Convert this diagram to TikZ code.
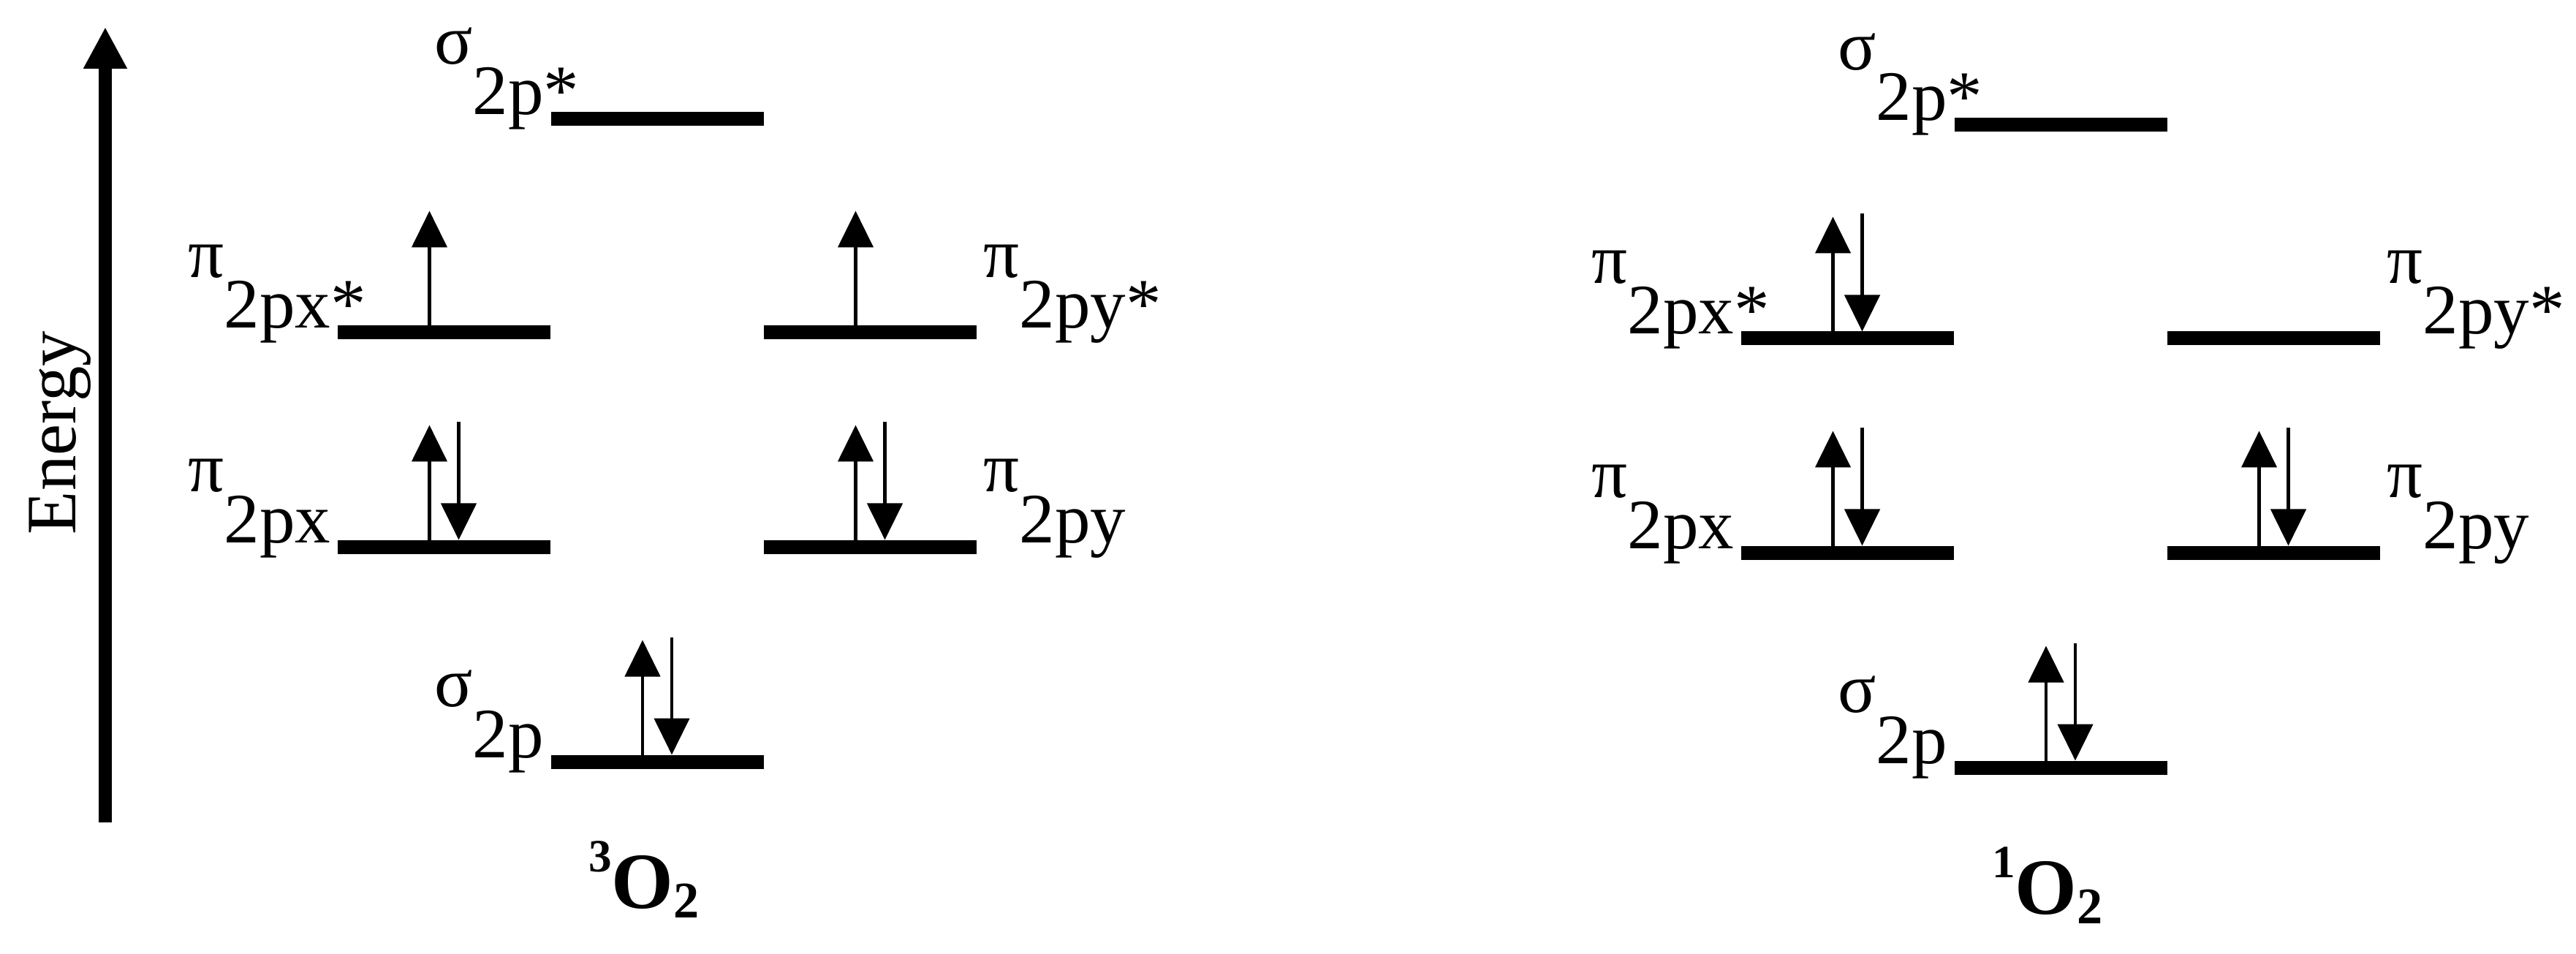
\documentclass[tikz,border=0pt]{standalone}
\usepackage{fontspec}
\setmainfont{Liberation Serif}
\usetikzlibrary{arrows.meta}
\tikzset{
    level/.style = {
        fill=black,
        minimum width = 2.91cm,
        minimum height = 0.19cm,
        inner sep = 0pt,
        outer sep = 0pt,
    },
    spin/.style = {-{Triangle[length=0.5cm,width=0.48cm]}, line width=1.3pt},
    energyaxis/.style = {-{Triangle[length=0.57cm,width=0.56cm]}, line width=5.1pt},
    orblabel/.style = {inner sep=0pt, font=\fontsize{27.6}{30}\selectfont},
    statelabel/.style = {inner sep=0pt, anchor=base, font=\fontsize{31}{34}\selectfont\bfseries}
}
\newcommand{\orb}[2]{\raisebox{0.72em}{#1}#2}
\newcommand{\molabel}[1]{\raisebox{0.5cm}{\fontsize{18}{20}\selectfont #1}O\raisebox{-0.13cm}{\fontsize{20}{22}\selectfont 2}}
\newcommand{\eup}[1]{\draw[spin] ([xshift=-0.2cm]#1.north) -- ++(0,1.57);}
\newcommand{\edown}[1]{\draw[spin] ([xshift=0.2cm,yshift=1.61cm]#1.north) -- ([xshift=0.2cm]#1.north);}
\newcommand{\epair}[1]{\eup{#1}\edown{#1}}

\begin{document}
\begin{tikzpicture}
  \useasboundingbox (0,0) rectangle (35.24,13.04);

  % Energy axis
  \coordinate (ebot) at (1.44,1.79);
  \coordinate (etop) at (1.44,12.67);
  \draw[energyaxis] (ebot) -- (etop);
  \node[orblabel, rotate=90, anchor=base] (energy) at (1.03,7.12) {Energy};

  % Levels and labels of both states (L = triplet, R = singlet)
  \foreach \m/\dx/\dy in {L/0/0, R/19.2/-0.08} {
    \begin{scope}[shift={(\dx,\dy)}]
      \node[level] (s2ps\m)  at (8.99,11.41)  {};
      \node[level] (p2pxs\m) at (6.075,8.49)  {};
      \node[level] (p2pys\m) at (11.905,8.49) {};
      \node[level] (p2px\m)  at (6.075,5.56)  {};
      \node[level] (p2py\m)  at (11.905,5.56) {};
      \node[level] (s2p\m)   at (8.99,2.62)   {};

      \node[orblabel, anchor=base east] (ls2ps\m)  at ([xshift=-0.09cm,yshift=0.06cm]s2ps\m.west)  {\orb{σ}{2p\rlap{*}}};
      \node[orblabel, anchor=base east] (lp2pxs\m) at ([xshift=-0.09cm,yshift=0.06cm]p2pxs\m.west) {\orb{π}{2px\rlap{*}}};
      \node[orblabel, anchor=base west] (lp2pys\m) at ([xshift=0.09cm,yshift=0.06cm]p2pys\m.east)  {\orb{π}{2py*}};
      \node[orblabel, anchor=base east] (lp2px\m)  at ([xshift=-0.09cm,yshift=0.06cm]p2px\m.west)  {\orb{π}{2px}};
      \node[orblabel, anchor=base west] (lp2py\m)  at ([xshift=0.09cm,yshift=0.06cm]p2py\m.east)   {\orb{π}{2py}};
      \node[orblabel, anchor=base east] (ls2p\m)   at ([xshift=-0.09cm,yshift=0.06cm]s2p\m.west)   {\orb{σ}{2p}};
    \end{scope}
  }

  % Electrons of triplet O2
  \eup{p2pxsL}
  \eup{p2pysL}
  \epair{p2pxL}
  \epair{p2pyL}
  \epair{s2pL}

  % Electrons of singlet O2
  \epair{p2pxsR}
  \epair{p2pxR}
  \epair{p2pyR}
  \epair{s2pR}

  % State names
  \node[statelabel] (triplet) at (8.81,0.62)  {\molabel{3}};
  \node[statelabel] (singlet) at (28.01,0.54) {\molabel{1}};

\end{tikzpicture}
\end{document}
